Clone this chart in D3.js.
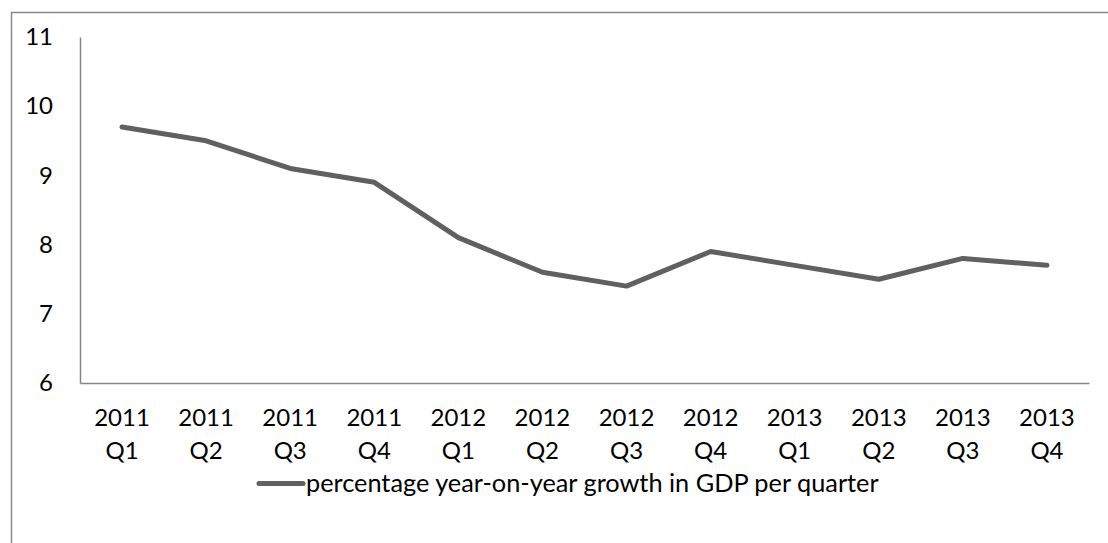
<!DOCTYPE html>
<html>
<head>
<meta charset="utf-8">
<script src="https://cdn.jsdelivr.net/npm/d3@7"></script>
<style>
  body { margin: 0; background: #fff; }
  svg text { font-family: Lato, "Open Sans", sans-serif; fill: #000; }
</style>
</head>
<body>
<div id="chart"></div>
<script>
// Data
var quarters = ["2011 Q1", "2011 Q2", "2011 Q3", "2011 Q4",
                "2012 Q1", "2012 Q2", "2012 Q3", "2012 Q4",
                "2013 Q1", "2013 Q2", "2013 Q3", "2013 Q4"];
var growth = [9.7, 9.5, 9.1, 8.9, 8.1, 7.6, 7.4, 7.9, 7.7, 7.5, 7.8, 7.7];
var yTicks = [6, 7, 8, 9, 10, 11];
var seriesName = "percentage year-on-year growth in GDP per quarter";

var svgWidth = 1108;
var svgHeight = 543;
var fontSize = "24px";

var margin = { top: 37, right: 19, bottom: 160, left: 80 };

var svg = d3.select("#chart")
  .append("svg")
  .attr("width", svgWidth)
  .attr("height", svgHeight);

// chart frame (runs off the right and bottom edge)
svg.append("rect")
  .attr("x", 11.5)
  .attr("y", 12.5)
  .attr("width", 1120)
  .attr("height", 560)
  .attr("fill", "none")
  .attr("stroke", "#8a8a8a")
  .attr("stroke-width", 1.5);

var width = svgWidth - margin.left - margin.right;
var height = 383 - margin.top;

var chartGroup = svg.append("g")
  .attr("transform", `translate(${margin.left}, ${margin.top})`);

// scales
var xScale = d3.scaleBand()
  .domain(quarters)
  .range([0, width]);

var yScale = d3.scaleLinear()
  .domain([6, 11])
  .range([height, 0]);

// axes
var leftAxis = d3.axisLeft(yScale)
  .tickValues(yTicks)
  .tickFormat(d3.format("d"))
  .tickSize(0)
  .tickPadding(27);

var bottomAxis = d3.axisBottom(xScale)
  .tickSize(0)
  .tickPadding(0);

var yAxisG = chartGroup.append("g").call(leftAxis);
yAxisG.select(".domain").attr("stroke", "#868686").attr("stroke-width", 1.5);
yAxisG.selectAll("text")
  .attr("font-size", fontSize)
  .attr("font-family", "Lato, 'Open Sans', sans-serif")
  .attr("fill", "#000");

var xAxisG = chartGroup.append("g")
  .attr("transform", `translate(0, ${height})`)
  .call(bottomAxis);
xAxisG.select(".domain").attr("stroke", "#868686").attr("stroke-width", 1.5);
xAxisG.selectAll("text").each(function(d) {
  var parts = d.split(" ");
  var t = d3.select(this)
    .text(null)
    .attr("font-size", fontSize)
    .attr("font-family", "Lato, 'Open Sans', sans-serif")
    .attr("fill", "#000")
    .attr("y", 0)
    .attr("dy", null);
  t.append("tspan").attr("x", 0).attr("y", 42.5).text(parts[0]);
  t.append("tspan").attr("x", 0).attr("y", 75.5).text(parts[1]);
});

// line
var line = d3.line()
  .x((d, i) => xScale(quarters[i]) + xScale.bandwidth() / 2)
  .y(d => yScale(d));

chartGroup.append("path")
  .datum(growth)
  .attr("d", line)
  .attr("fill", "none")
  .attr("stroke", "#606060")
  .attr("stroke-width", 5)
  .attr("stroke-linejoin", "round")
  .attr("stroke-linecap", "round");

// legend
var legend = svg.append("g")
  .attr("transform", "translate(257, 483.5)");

legend.append("line")
  .attr("x1", 2)
  .attr("x2", 46)
  .attr("y1", 0)
  .attr("y2", 0)
  .attr("stroke", "#606060")
  .attr("stroke-width", 5)
  .attr("stroke-linecap", "round");

legend.append("text")
  .attr("x", 49)
  .attr("y", 0)
  .attr("dy", "0.35em")
  .attr("font-size", "25.3px")
  .text(seriesName);
</script>
</body>
</html>
